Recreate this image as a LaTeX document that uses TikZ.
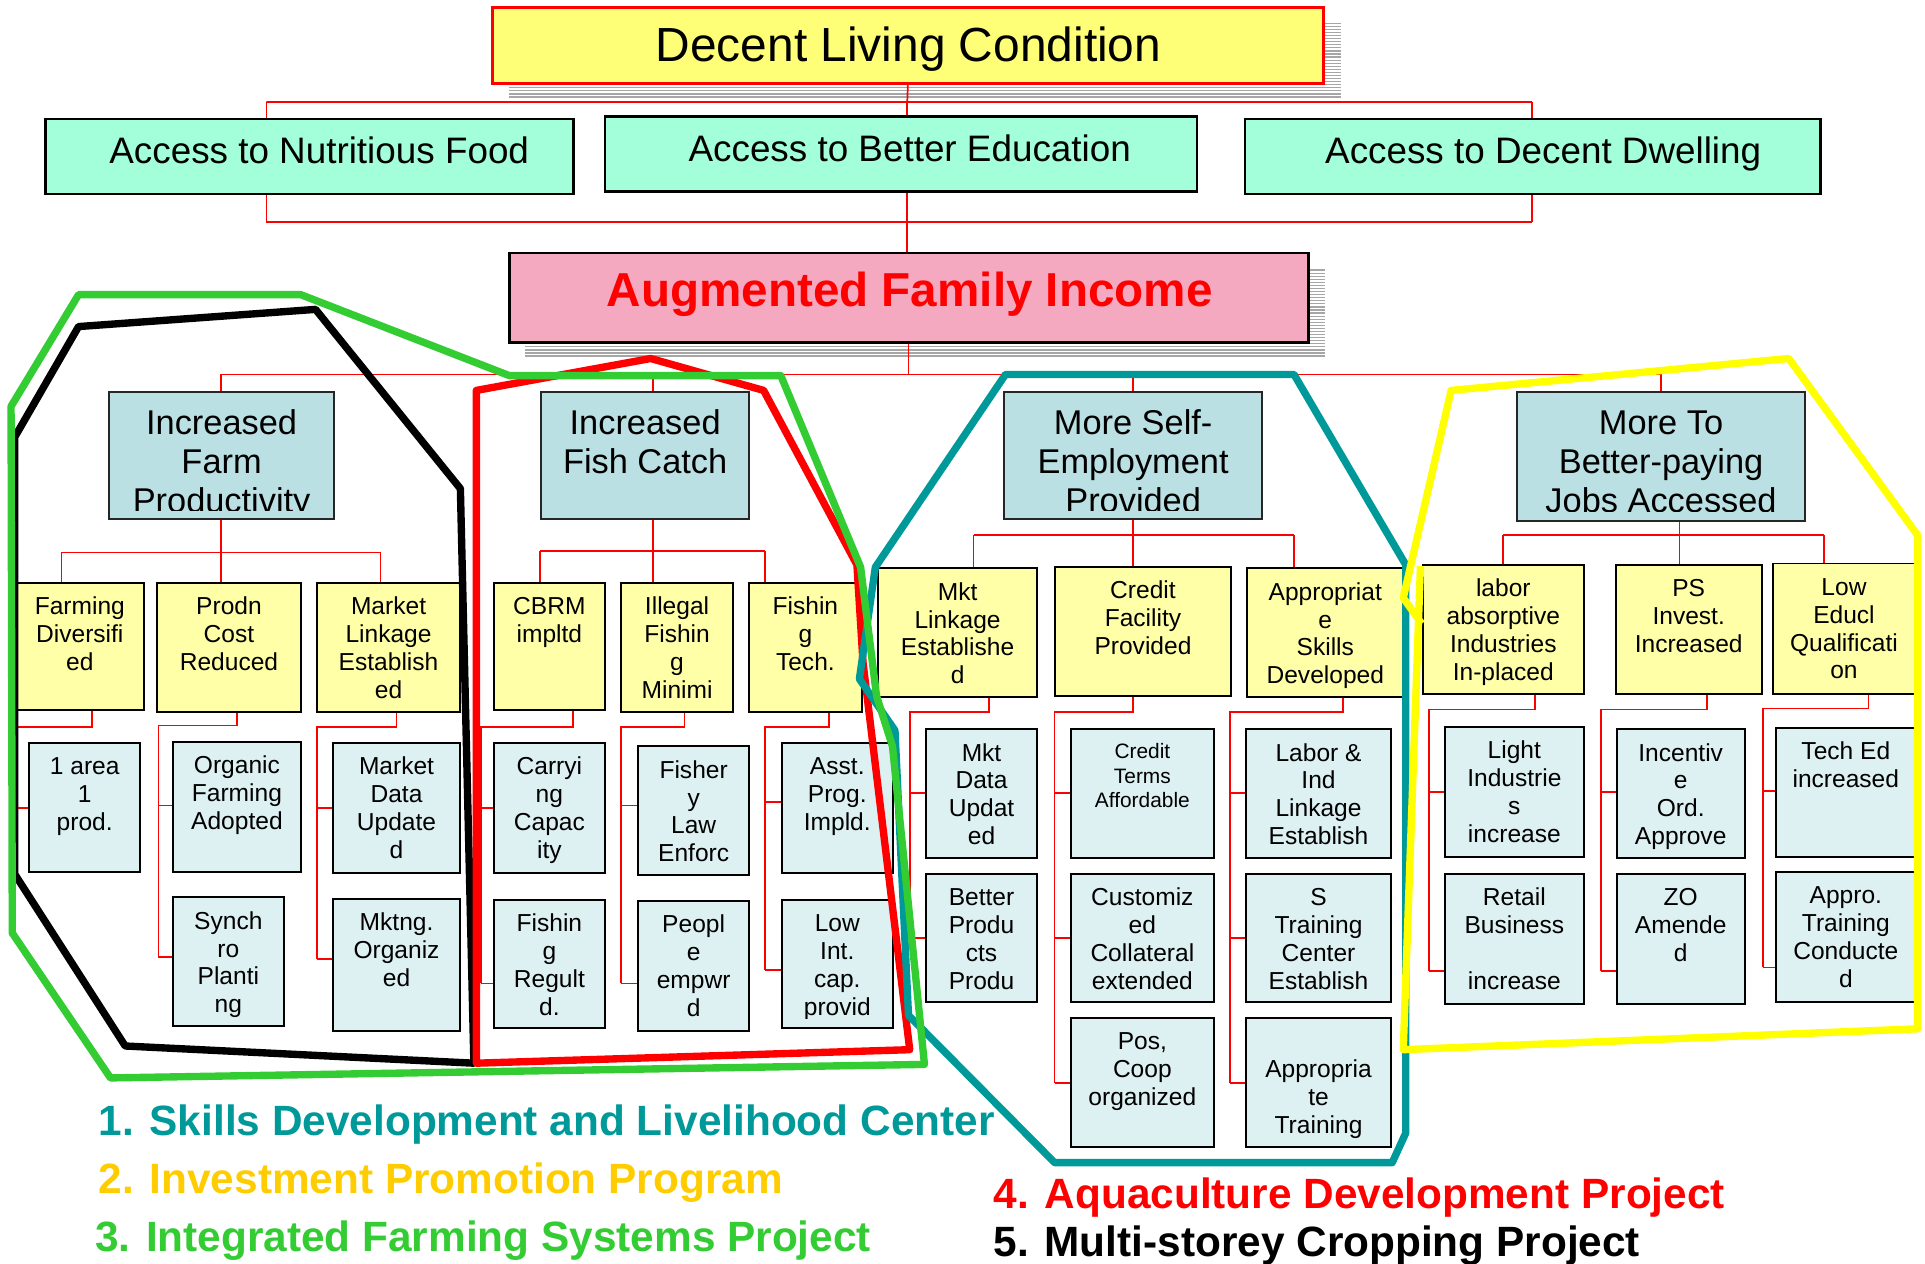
\documentclass[tikz,border=0pt]{standalone}
\usepackage{fontspec}
\setmainfont{Liberation Sans}
\usetikzlibrary{fit}
\definecolor{dlcfill}{RGB}{255,255,119}
\definecolor{accfill}{RGB}{163,255,217}
\definecolor{afifill}{RGB}{245,169,192}
\definecolor{goalfill}{RGB}{186,224,227}
\definecolor{subfill}{RGB}{255,255,168}
\definecolor{actfill}{RGB}{221,240,242}
\definecolor{clrskill}{RGB}{0,153,153}
\definecolor{clrinvest}{RGB}{255,204,0}
\definecolor{clrfarm}{RGB}{51,204,51}
\definecolor{clryel}{RGB}{255,255,0}
\tikzset{link/.style = {red, line width=0.7pt}}
\tikzset{ring/.style = {line width=3pt, line join=round}}
\tikzset{shadowline/.style = {gray!70, line width=0.5pt}}
\tikzset{legendtxt/.style = {anchor=base west, inner sep=0, font=\bfseries\fontsize{17.25}{20}\selectfont}}
\tikzset{headtxt/.style = {anchor=base, inner sep=0, font=\fontsize{15}{18}\selectfont}}
\tikzset{goalbox/.style = {draw=black!85, fill=goalfill, line width=0.8pt, inner sep=0}}
\tikzset{goaltxt/.style = {inner sep=0, anchor=north, align=center, yshift=-6.3pt, font=\fontsize{14}{16}\selectfont}}
\tikzset{subbox/.style = {draw=black, fill=subfill, line width=0.8pt, inner sep=0}}
\tikzset{subtxt/.style = {inner sep=0, anchor=north, align=center, yshift=-5.2pt, font=\fontsize{10}{11.35}\selectfont}}
\tikzset{actbox/.style = {draw=black, fill=actfill, line width=0.8pt, inner sep=0}}
\tikzset{acttxt/.style = {subtxt}}
% box from (x1,y1) to (x2,y2), text hung from its top and cut at its bottom
\newcommand\bx[8][]{%
  \node[#3box, fit={(#4,#5) (#6,#7)}] (#2) {};
  \begin{scope}
    \clip (#4,#5) rectangle (#6,#7-7);
    \node[#3txt, #1] (#2-t) at (#2.north) {\strut#8};
  \end{scope}}

\begin{document}
\begin{tikzpicture}[x=0.5pt, y=-0.5pt]
    \useasboundingbox (0,0) rectangle (1568,1029);
    \foreach \y in {19,21.5,...,80} \draw[shadowline] (415,\y) -- (1092,\y);
    \foreach \y in {220,222.5,...,291} \draw[shadowline] (428,\y) -- (1079,\y);

    \node[draw=red, fill=dlcfill, line width=1pt, inner sep=0, fit={(401,6) (1078,68)}] (dlc) {};
    \node[anchor=base, inner sep=0, font=\fontsize{19.5}{23}\selectfont] (dlc-t) at (740,50) {Decent Living Condition};

    \draw[link] (dlc.south) -- (739,83) (217,83) -- (1248,83);
    \foreach \n/\x in {nut/217, edu/739, dwe/1248} {
        \draw[link] (\x,83) -- (\x,97);
        \draw[link] (\x,156) -- (\x,181);
    }
    \draw[link] (217,181) -- (1248,181) (739,181) -- (739,206);

    \node[draw=black, fill=accfill, line width=1pt, inner sep=0, fit={(37,97) (467,158)}] (nut) {};
    \node[draw=black, fill=accfill, line width=1pt, inner sep=0, fit={(493,95) (975,156)}] (edu) {};
    \node[draw=black, fill=accfill, line width=1pt, inner sep=0, fit={(1014,97) (1483,158)}] (dwe) {};
    \node[headtxt] (nut-t) at (260,133) {Access to Nutritious Food};
    \node[headtxt] (edu-t) at (741,131.7) {Access to Better Education};
    \node[headtxt] (dwe-t) at (1257,133) {Access to Decent Dwelling};

    \node[draw=black, fill=afifill, line width=1pt, inner sep=0, fit={(415,206) (1066,279)}] (afi) {};
    \node[anchor=base, inner sep=0, red, font=\bfseries\fontsize{19.4}{23}\selectfont] (afi-t) at (741,249.8) {Augmented Family Income};

    \draw[link] (afi.south -| 740,0) -- (740,305);
    \draw[link] (180,305) -- (1353,305);
    \foreach \x in {180,532,923,1353} \draw[link] (\x,305) -- (\x,319);

    \draw[link] (180,423) -- (180,450) (50,450) -- (310,450);
    \foreach \x in {50,180,310} \draw[link] (\x,450) -- (\x,475);
    \draw[link] (532,423) -- (532,449) (440,449) -- (623,449);
    \foreach \x in {440,532,623} \draw[link] (\x,449) -- (\x,475);
    \draw[link] (923,423) -- (923,436) (793,436) -- (1054,436);
    \foreach \x in {793,923,1054} \draw[link] (\x,436) -- (\x,463);
    \draw[link] (1368,424) -- (1368,436) (1224,436) -- (1486,436);
    \foreach \x in {1224,1368,1486} \draw[link] (\x,436) -- (\x,460);

    \bx{farm}{goal}{89}{319}{272}{423}{Increased\\Farm\\Productivity}
    \bx{fish}{goal}{441}{319}{610}{423}{Increased\\Fish Catch}
    \bx{self}{goal}{818}{319}{1028}{423}{More Self-\\Employment\\Provided}
    \bx{jobs}{goal}{1236}{319}{1470}{424}{More To\\Better-paying\\Jobs Accessed}

    \bx{fd}{sub}{13}{475}{117}{578}{Farming\\Diversifi\\ed}
    \bx{pc}{sub}{128}{475}{245}{580}{Prodn\\Cost\\Reduced}
    \bx{ml}{sub}{258}{475}{375}{580}{Market\\Linkage\\Establish\\ed}
    \bx{cbrm}{sub}{402}{475}{493}{578}{CBRM\\impltd}
    \bx{ill}{sub}{506}{475}{597}{580}{Illegal\\Fishin\\g\\Minimi}
    \bx{ft}{sub}{610}{475}{702}{580}{Fishin\\g\\Tech.}
    \bx{mkl}{sub}{715}{463}{845}{568}{Mkt\\Linkage\\Establishe\\d}
    \bx{cf}{sub}{859}{462}{1003}{567}{Credit\\Facility\\Provided}
    \bx{as}{sub}{1016}{463}{1143}{568}{Appropriat\\e\\Skills\\Developed}
    \bx{lab}{sub}{1159}{460}{1290}{565}{labor\\absorptive\\Industries\\In-placed}
    \bx{ps}{sub}{1316}{460}{1435}{565}{PS\\Invest.\\Increased}
    \bx{le}{sub}{1444}{459}{1560}{565}{Low\\Educl\\Qualificati\\on}

    \foreach \p/\xd/\yb/\xv/\yl in {fd/75/592/13/658, pc/193/591/129/779.5, ml/323/592/258/781,
        cbrm/467/592/391.5/801, ill/557.6/592/506/801, ft/675/592/623/790,
        mkl/805.5/580/741/764, cf/923/580/859/882, as/1094/580/1002/882,
        lab/1250.5/578/1164/791, ps/1390.5/578/1304/791, le/1522/577/1436/788}
        \draw[link] (\p.south -| \xd,0) |- (\xv,\yb) -- (\xv,\yl);

    \bx{area}{act}{24}{605}{114}{710}{1 area\\1\\prod.}
    \bx{org}{act}{141}{604}{245}{710}{Organic\\Farming\\Adopted}
    \bx{syn}{act}{141}{731}{231}{836}{Synch\\ro\\Planti\\ng}
    \bx{mdu}{act}{271}{605}{375}{711}{Market\\Data\\Update\\d}
    \bx{mko}{act}{271}{732}{375}{840}{Mktng.\\Organiz\\ed}
    \bx{cap}{act}{402}{605}{493}{711}{Carryi\\ng\\Capac\\ity}
    \bx{reg}{act}{402}{733}{493}{837}{Fishin\\g\\Regult\\d.}
    \bx{law}{act}{520}{608}{610}{713}{Fisher\\y\\Law\\Enforc}
    \bx{emp}{act}{520}{734}{610}{840}{Peopl\\e\\empwr\\d}
    \bx{asp}{act}{637}{605}{727}{711}{Asst.\\Prog.\\Impld.}
    \bx{lic}{act}{637}{733}{727}{837}{Low\\Int.\\cap.\\provid}
    \bx{mdt}{act}{754}{594}{845}{699}{Mkt\\Data\\Updat\\ed}
    \bx{bpp}{act}{754}{712}{845}{816}{Better\\Produ\\cts\\Produ}
    \bx[font=\fontsize{8.5}{10}\selectfont]{ctf}{act}{872}{594}{989}{699}{Credit\\Terms\\Affordable}
    \bx{cce}{act}{872}{712}{989}{816}{Customiz\\ed\\Collateral\\extended}
    \bx{pco}{act}{872}{829}{989}{934}{Pos,\\Coop\\organized}
    \bx{lil}{act}{1015}{594}{1133}{699}{Labor \&\\Ind\\Linkage\\Establish}
    \bx{stc}{act}{1015}{712}{1133}{816}{S\\Training\\Center\\Establish}
    \bx{atr}{act}{1015}{829}{1133}{934}{\mbox{}\\Appropria\\te\\Training}
    \bx{lii}{act}{1177}{592}{1290}{698}{Light\\Industrie\\s\\increase}
    \bx{rbi}{act}{1177}{712}{1290}{818}{Retail\\Business\\\mbox{}\\increase}
    \bx{ioa}{act}{1317}{594}{1421}{699}{Incentiv\\e\\Ord.\\Approve}
    \bx{zoa}{act}{1317}{712}{1421}{818}{ZO\\Amende\\d}
    \bx{ted}{act}{1447}{593}{1560}{698}{Tech Ed\\increased}
    \bx{atc}{act}{1447}{710}{1560}{816}{Appro.\\Training\\Conducte\\d}

    \foreach \c/\xv/\ty in {area/13/658, org/129/656, syn/129/779.5, mdu/258/658, mko/258/781,
        cap/391.5/658, reg/391.5/801, law/506/656, emp/506/801, asp/623/653, lic/623/790,
        mdt/741/646, bpp/741/764, ctf/859/646, cce/859/764, pco/859/882,
        lil/1002/646, stc/1002/764, atr/1002/882, lii/1164/645, rbi/1164/791,
        ioa/1304/645, zoa/1304/791, ted/1436/644, atc/1436/788}
        \draw[link] (\xv,\ty) -- (\c.west |- 0,\ty);

    \draw[ring, black] (12,356) -- (64,266) -- (257,252) -- (375,398) -- (386,866) -- (102,852) -- (12,712) -- cycle;
    \draw[ring, red] (388,318) -- (530,292) -- (622,318) -- (698,460) -- (703,540) -- (741,855) -- (388,866) -- cycle;
    \draw[ring, clrskill] (819,305) -- (1054,305) -- (1145,460) -- (1145,923) -- (1134,947) -- (859,947) -- (740,827) -- (729,595) -- (700,553) -- (713,462) -- cycle;
    \draw[ring, clryel] (1157,461) -- (1143,855) -- (1562,838) -- (1562,436) -- (1457,292) -- (1182,318) -- (1143,487) -- (1158,508);
    \draw[ring, clrfarm] (9,331) -- (64,240) -- (245,240) -- (415,306) -- (636,306) -- (701,462) -- (714,567) -- (727,608) -- (753,867) -- (90,878) -- (10,760) -- cycle;

    \node[legendtxt, clrskill] (lg-skill) at (80,924.5) {1. Skills Development and Livelihood Center};
    \node[legendtxt, clrinvest] (lg-invest) at (80,972) {2. Investment Promotion Program};
    \node[legendtxt, clrfarm] (lg-farm) at (77,1019.5) {3. Integrated Farming Systems Project};
    \node[legendtxt, red] (lg-aqua) at (809,984.2) {4. Aquaculture Development Project};
    \node[legendtxt, black] (lg-crop) at (809,1023.5) {5. Multi-storey Cropping Project};
\end{tikzpicture}
\end{document}
